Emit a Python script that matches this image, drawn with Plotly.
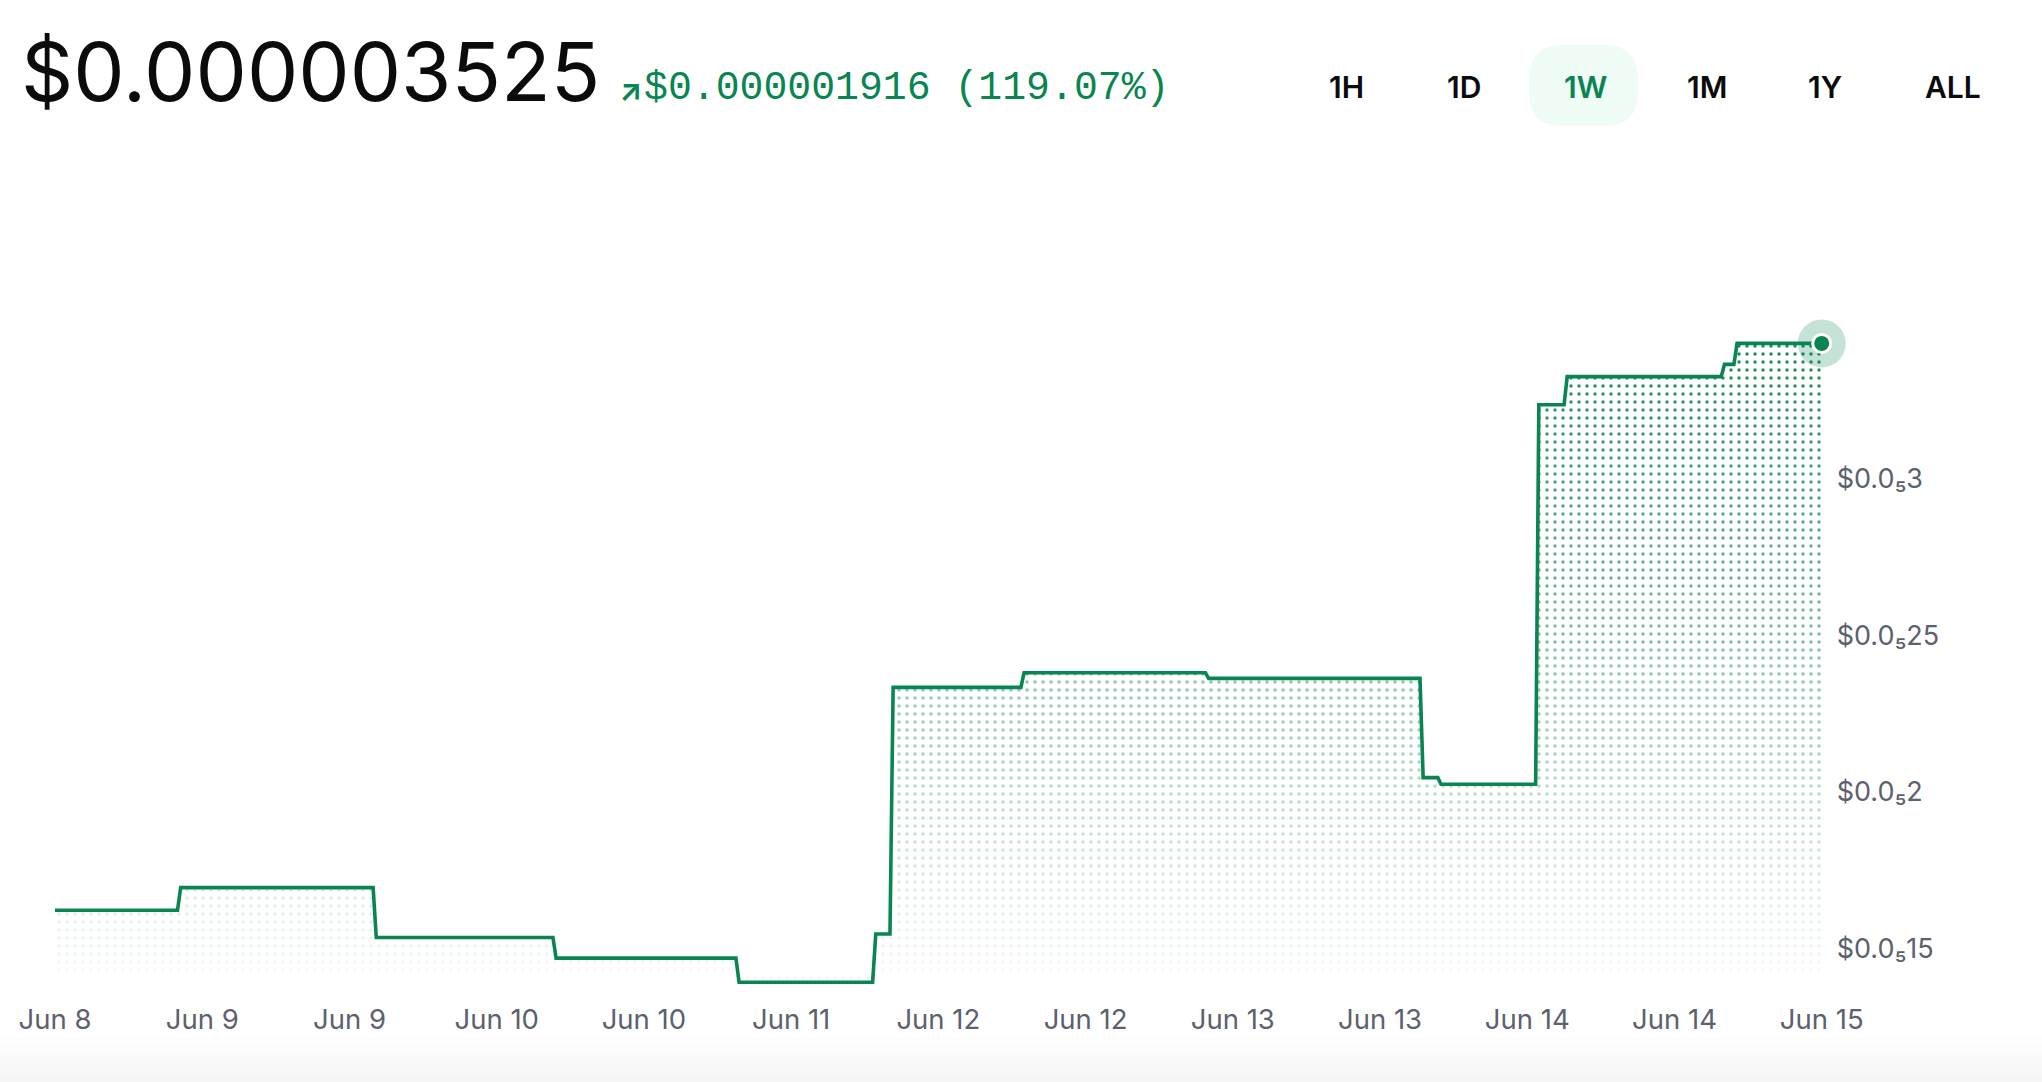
import plotly.graph_objects as go

# ---------------- data ----------------
times = [
    "2024-06-08 13:00", "2024-06-09 00:39", "2024-06-09 00:57", "2024-06-09 19:15",
    "2024-06-09 19:33", "2024-06-10 12:21", "2024-06-10 12:39", "2024-06-11 05:45",
    "2024-06-11 06:03", "2024-06-11 18:45", "2024-06-11 19:03", "2024-06-11 20:24",
    "2024-06-11 20:42", "2024-06-12 08:51", "2024-06-12 09:09", "2024-06-13 02:24",
    "2024-06-13 02:42", "2024-06-13 22:48", "2024-06-13 23:06", "2024-06-14 00:30",
    "2024-06-14 00:48", "2024-06-14 09:48", "2024-06-14 10:06", "2024-06-14 12:30",
    "2024-06-14 12:48", "2024-06-15 03:27", "2024-06-15 03:45", "2024-06-15 04:39",
    "2024-06-15 04:57", "2024-06-15 13:00",
]
prices_e6 = [
    1.622, 1.622, 1.694, 1.694,
    1.535, 1.535, 1.469, 1.469,
    1.392, 1.392, 1.546, 1.546,
    2.333, 2.333, 2.380, 2.380,
    2.362, 2.362, 2.045, 2.045,
    2.024, 2.024, 3.235, 3.235,
    3.325, 3.325, 3.364, 3.364,
    3.431, 3.431,
]
prices = [p * 1e-6 for p in prices_e6]
fill_base = 1.4215e-6

x_tickvals = [
    "2024-06-08 13:00", "2024-06-09 03:00", "2024-06-09 17:00", "2024-06-10 07:00",
    "2024-06-10 21:00", "2024-06-11 11:00", "2024-06-12 01:00", "2024-06-12 15:00",
    "2024-06-13 05:00", "2024-06-13 19:00", "2024-06-14 09:00", "2024-06-14 23:00",
    "2024-06-15 13:00",
]
x_ticktext = ["Jun 8", "Jun 9", "Jun 9", "Jun 10", "Jun 10", "Jun 11", "Jun 12",
              "Jun 12", "Jun 13", "Jun 13", "Jun 14", "Jun 14", "Jun 15"]
y_tickvals = [1.5e-6, 2.0e-6, 2.5e-6, 3.0e-6]
y_ticktext = ["$0.0\u208515", "$0.0\u20852", "$0.0\u208525", "$0.0\u20853"]

price_text = "$0.000003525"
change_arrow = "\u2197"
change_text = "$0.000001916 (119.07%)"
ranges = ["1H", "1D", "1W", "1M", "1Y", "ALL"]
active_range = "1W"

# ---------------- style ----------------
W, H = 2042, 1082
GREEN = "#098551"
GRAY = "#5b616e"
FONT = "Inter"


def X(px):
    return px / W


def Y(py):
    return 1 - py / H


plot_left, plot_right = 55, 1821.7
plot_top, plot_bot = 150, 1000


# y mapping: 1.5e-6 at 948.4px, 313.3 px per 1e-6
def v_at(py):
    return (1.5 + (948.4 - py) / 313.3) * 1e-6


fig = go.Figure()

base_x = [times[0], times[-1]]
base_y = [fill_base, fill_base]

# dotted fill
fig.add_trace(go.Scatter(x=base_x, y=base_y, mode="lines", line=dict(width=0),
                         hoverinfo="skip", showlegend=False))
fig.add_trace(go.Scatter(
    x=times, y=prices, mode="lines", line=dict(width=0), fill="tonexty",
    fillcolor="rgba(0,0,0,0)",
    fillpattern=dict(shape=".", size=8, solidity=0.15, fgcolor=GREEN,
                     bgcolor="rgba(0,0,0,0)", fillmode="replace"),
    hoverinfo="skip", showlegend=False))
# white fade overlay
fig.add_trace(go.Scatter(x=base_x, y=base_y, mode="lines", line=dict(width=0),
                         hoverinfo="skip", showlegend=False))
fig.add_trace(go.Scatter(
    x=times, y=prices, mode="lines", line=dict(width=0), fill="tonexty",
    fillgradient=dict(type="vertical", start=fill_base, stop=prices[-1],
                      colorscale=[[0, "rgba(255,255,255,0.96)"],
                                  [1, "rgba(255,255,255,0.05)"]]),
    hoverinfo="skip", showlegend=False))
# price line
fig.add_trace(go.Scatter(x=times, y=prices, mode="lines",
                         line=dict(color=GREEN, width=3.6),
                         hoverinfo="skip", showlegend=False))
# end marker
fig.add_trace(go.Scatter(x=[times[-1]], y=[prices[-1]], mode="markers",
                         marker=dict(size=48, color="rgba(9,133,81,0.24)"),
                         cliponaxis=False, hoverinfo="skip", showlegend=False))
fig.add_trace(go.Scatter(x=[times[-1]], y=[prices[-1]], mode="markers",
                         marker=dict(size=18, color=GREEN,
                                     line=dict(color="white", width=3)),
                         cliponaxis=False, hoverinfo="skip", showlegend=False))

# ---------------- layout ----------------
shapes = []
# bottom soft gray band
for i in range(10):
    shapes.append(dict(type="rect", xref="paper", yref="paper",
                       x0=0, x1=1, y0=0, y1=Y(1036 + i * 4.6),
                       fillcolor="rgba(0,0,0,0.0048)", line=dict(width=0),
                       layer="below"))
# active range pill
px0, px1, py0, py1, r = 1529, 1638, 45, 126, 34
path = (f"M {X(px0 + r)},{Y(py0)} L {X(px1 - r)},{Y(py0)} "
        f"Q {X(px1)},{Y(py0)} {X(px1)},{Y(py0 + r)} "
        f"L {X(px1)},{Y(py1 - r)} Q {X(px1)},{Y(py1)} {X(px1 - r)},{Y(py1)} "
        f"L {X(px0 + r)},{Y(py1)} Q {X(px0)},{Y(py1)} {X(px0)},{Y(py1 - r)} "
        f"L {X(px0)},{Y(py0 + r)} Q {X(px0)},{Y(py0)} {X(px0 + r)},{Y(py0)} Z")
shapes.append(dict(type="path", xref="paper", yref="paper", path=path,
                   fillcolor="#effbf5", line=dict(width=0), layer="below"))

annotations = [
    dict(text=price_text, x=X(19), y=Y(71), xref="paper", yref="paper",
         xanchor="left", yanchor="middle", showarrow=False,
         font=dict(family=FONT, size=81.5, color="#0a0b0d")),
    dict(text=change_arrow, x=X(617), y=Y(90), xref="paper", yref="paper",
         xanchor="left", yanchor="middle", showarrow=False,
         font=dict(family=FONT, size=30, weight=700, color=GREEN)),
    dict(text=change_text, x=X(642), y=Y(88), xref="paper", yref="paper",
         xanchor="left", yanchor="middle", showarrow=False,
         font=dict(family="Liberation Mono", size=39.8, color=GREEN)),
]
btn_x = [1346, 1464, 1585, 1707, 1825, 1953]
for lab, bx in zip(ranges, btn_x):
    annotations.append(dict(
        text=lab, x=X(bx), y=Y(87), xref="paper", yref="paper",
        xanchor="center", yanchor="middle", showarrow=False,
        font=dict(family=FONT, size=30, weight=600,
                  color=GREEN if lab == active_range else "#0a0b0d")))

fig.update_layout(
    width=W, height=H,
    margin=dict(l=0, r=0, t=0, b=0, autoexpand=False),
    paper_bgcolor="white", plot_bgcolor="white",
    showlegend=False,
    shapes=shapes,
    annotations=annotations,
    xaxis=dict(
        type="date",
        domain=[X(plot_left), X(plot_right)],
        range=[times[0], times[-1]],
        tickvals=x_tickvals, ticktext=x_ticktext,
        showgrid=False, zeroline=False, showline=False, ticks="",
        tickfont=dict(family=FONT, size=27.5, color=GRAY),
        ticklabelstandoff=0,
        automargin=False,
        fixedrange=True,
    ),
    yaxis=dict(
        domain=[Y(plot_bot), Y(plot_top)],
        range=[v_at(plot_bot), v_at(plot_top)],
        side="right",
        tickvals=y_tickvals, ticktext=y_ticktext,
        showgrid=False, zeroline=False, showline=False, ticks="",
        tickfont=dict(family=FONT, size=27, color=GRAY),
        ticklabelstandoff=14,
        automargin=False,
        fixedrange=True,
    ),
)

fig.write_html("out.html", config=dict(displayModeBar=False))
